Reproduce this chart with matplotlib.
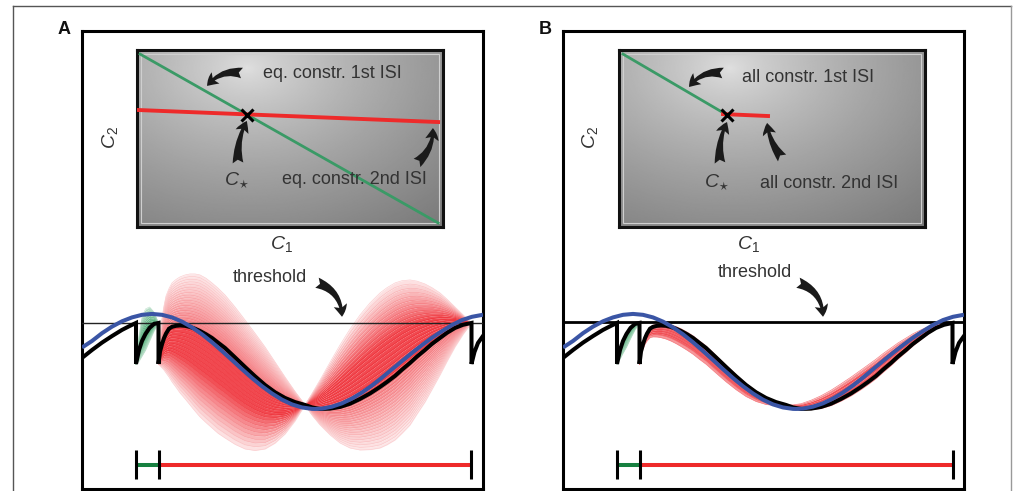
import numpy as np
import matplotlib
matplotlib.use("Agg")
import matplotlib.pyplot as plt
from matplotlib.patches import FancyArrowPatch, Rectangle
from matplotlib.lines import Line2D

plt.rcParams['font.family'] = ['Liberation Sans', 'DejaVu Sans']
plt.rcParams['mathtext.fontset'] = 'custom'
plt.rcParams['mathtext.rm'] = 'Liberation Sans'
plt.rcParams['mathtext.it'] = 'Liberation Sans:italic'
plt.rcParams['mathtext.bf'] = 'Liberation Sans:bold'

# ---------------- data ----------------
# time in ms, membrane potential normalised (reset = 0, threshold = 1)
threshold = 1.0
spike_times = [5.4, 7.65, 38.95]

osc_t = [0, 1, 2, 3, 4, 5, 6, 7, 8, 9, 10, 11, 12, 13, 14, 15, 16, 17, 18, 19,
         20, 21, 22, 23, 23.3, 24, 25, 26, 27, 28, 29, 30, 31, 32, 33, 34, 35,
         36, 37, 38, 39, 40.1]
osc_v = [0.40, 0.56, 0.75, 0.91, 1.04, 1.135, 1.198, 1.22, 1.198, 1.135, 1.032,
         0.892, 0.723, 0.528, 0.316, 0.095, -0.128, -0.344, -0.544, -0.721,
         -0.872, -0.987, -1.061, -1.096, -1.098, -1.089, -1.042, -0.96, -0.843,
         -0.697, -0.525, -0.334, -0.129, 0.07, 0.27, 0.46, 0.64, 0.80, 0.95,
         1.07, 1.15, 1.20]

pre_t = [0, 1, 2, 3, 4, 4.8, 5.4]
pre_v = [0.146, 0.34, 0.52, 0.68, 0.83, 0.93, 1.0]

isi1_t = [5.4, 5.7, 6.0, 6.35, 6.75, 7.2, 7.65]
isi1_v = [0, 0.341, 0.561, 0.732, 0.878, 0.976, 1.0]
isi1_up = [0, 0.707, 1.146, 1.341, 1.39, 1.268, 1.0]
isi1_low = [0, 0.073, 0.195, 0.341, 0.561, 0.805, 1.0]

isi2_t = [7.65, 7.8, 8.0, 8.2, 8.4, 8.7, 9.0, 9.4, 9.8, 10.3, 10.8, 11.3, 11.8,
          12.4, 13.0, 13.6, 14.3, 15.3, 16.3, 17.3, 18.3, 19.3, 20.3, 21.3,
          22.3, 23.0, 23.8, 24.8, 25.8, 26.8, 27.8, 28.8, 29.8, 30.5, 31.3,
          32.0, 32.8, 33.5, 34.3, 35.0, 35.8, 36.5, 37.3, 38.1, 38.95]
isi2_v = [0, 0.3, 0.48, 0.63, 0.74, 0.86, 0.905, 0.93, 0.939, 0.93, 0.902,
          0.86, 0.805, 0.725, 0.634, 0.52, 0.39, 0.16, -0.073, -0.3, -0.512,
          -0.69, -0.829, -0.93, -1.0, -1.06, -1.098, -1.09, -1.049, -0.97,
          -0.854, -0.72, -0.561, -0.44, -0.293, -0.14, 0.024, 0.18, 0.341,
          0.49, 0.634, 0.76, 0.878, 0.955, 1.0]
isi2_env_a = [0, 0.6, 1.122, 1.42, 1.659, 1.84, 1.976, 2.06, 2.122, 2.17, 2.195,
              2.195, 2.171, 2.09, 1.976, 1.85, 1.683, 1.39, 1.073, 0.75, 0.415,
              0.05, -0.317, -0.67, -1.0, -1.25, -1.488, -1.73, -1.927, -2.05,
              -2.098, -2.09, -2.049, -1.97, -1.854, -1.69, -1.488, -1.22,
              -0.927, -0.62, -0.268, 0.06, 0.415, 0.72, 1.0]
isi2_env_b = [0, -0.05, -0.098, -0.15, -0.22, -0.32, -0.439, -0.57, -0.707,
              -0.85, -1.0, -1.15, -1.293, -1.43, -1.561, -1.69, -1.805, -1.96,
              -2.073, -2.11, -2.073, -1.93, -1.707, -1.39, -1.0, -0.72, -0.39,
              0.04, 0.463, 0.85, 1.195, 1.49, 1.732, 1.86, 1.976, 2.03, 2.049,
              2.02, 1.951, 1.86, 1.732, 1.58, 1.39, 1.2, 1.0]

post_t = [38.95, 39.25, 39.6, 40.1]
post_v = [0, 0.293, 0.512, 0.683]

# fractions of the envelopes used for the families of trajectories
fan_levels_A = [0.0, 0.05, 0.1, 0.15, 0.2, 0.25, 0.3, 0.35, 0.4, 0.45, 0.5,
                0.55, 0.6, 0.65, 0.7, 0.75, 0.8, 0.85, 0.9, 0.95, 1.0]
fan_levels_B_b = [0.0, 0.03, 0.06, 0.09, 0.12, 0.15, 0.18]
fan_levels_B_a = [0.0, 0.02, 0.04]
green_levels_A = [0.0, 0.1, 0.2, 0.3, 0.4, 0.5, 0.6, 0.7, 0.8, 0.9, 1.0]
green_levels_B = [0.0, 0.1, 0.2, 0.3, 0.4, 0.5, 0.6, 0.7, 0.8]

# parameter space (normalised C1, C2)
A_c1_line1 = [0.01, 0.984]
A_c2_line1 = [0.977, 0.023]
A_c1_line2 = [0.003, 0.984]
A_c2_line2 = [0.661, 0.593]
A_cstar = (0.359, 0.635)

B_c1_line1 = [0.013, 0.353]
B_c2_line1 = [0.977, 0.633]
B_c1_line2 = [0.34, 0.487]
B_c2_line2 = [0.638, 0.627]
B_cstar = (0.353, 0.633)

bar_level = -2.46
bar_tick_lo, bar_tick_hi = -2.81, -2.10

# ---------------- styles ----------------
RED = np.array([237, 28, 36]) / 255.0
GREEN = np.array([30, 150, 80]) / 255.0
BLUE = '#3a55a5'
TXT = '#333333'
W, H = 1014, 491


def tint(base, a):
    return tuple(1 - a * (1 - base))


def fig_rect(x0, y0, x1, y1):
    return [x0 / W, 1 - y1 / H, (x1 - x0) / W, (y1 - y0) / H]


fig = plt.figure(figsize=(W / 100, H / 100), dpi=100)

# outer frame
fig.add_artist(Line2D([13 / W, 1011 / W], [1 - 6 / H, 1 - 6 / H], color='#555555', lw=1.0))
fig.add_artist(Line2D([13 / W, 13 / W], [0, 1 - 6 / H], color='#555555', lw=1.0))
fig.add_artist(Line2D([1011 / W, 1011 / W], [0, 1 - 6 / H], color='#999999', lw=1.0))


def draw_fan(ax, t, base, env, levels, intens, base_col, line_boost=0.12, lw=0.45):
    base = np.array(base)
    env = np.array(env)
    curves = [base + f * (env - base) for f in levels]
    for i in range(len(levels) - 1):
        m = 0.5 * (levels[i] + levels[i + 1])
        ax.fill_between(t, curves[i], curves[i + 1], color=tint(base_col, intens(m)),
                        lw=0, zorder=2)
    for f, c in zip(levels, curves):
        ax.plot(t, c, color=tint(base_col, min(1, intens(f) + line_boost)), lw=lw, zorder=2.5)


def arrow(ax, p0, p1, rad, scale=14, hw=0.7, hl=0.6, tw=0.55):
    a = FancyArrowPatch(p0, p1, connectionstyle=f'arc3,rad={rad}',
                        arrowstyle=f'fancy,head_length={hl},head_width={hw},tail_width={tw}',
                        mutation_scale=scale, color='#1a1a1a', lw=0,
                        shrinkA=0, shrinkB=0, transform=ax.transData, zorder=6)
    ax.add_patch(a)


def panel(xoff, label, mode):
    # --- outer panel box holding the voltage traces ---
    ax = fig.add_axes(fig_rect(82 + xoff, 31, 483 + xoff, 489))
    ax.set_xlim(0, 40.1)
    ax.set_ylim(-3.05, 8.12)
    ax.set_xticks([])
    ax.set_yticks([])
    for s in ax.spines.values():
        s.set_linewidth(2.2)
        s.set_color('black')
    fig.text((64 + xoff) / W, 1 - 30 / H, label, fontsize=13, fontweight='bold',
             ha='center', va='center', color='#111111')

    if mode == 'A':
        draw_fan(ax, isi2_t, isi2_v, isi2_env_b, fan_levels_A,
                 lambda m: 0.8 if m < 0.45 else 0.8 - (m - 0.45) / 0.55 * 0.7, RED)
        draw_fan(ax, isi2_t, isi2_v, isi2_env_a, fan_levels_A,
                 lambda m: 0.55 - 0.45 * m, RED)
        draw_fan(ax, isi1_t, isi1_v, isi1_up, green_levels_A,
                 lambda m: 0.85 - 0.6 * m, GREEN, lw=0.3)
        draw_fan(ax, isi1_t, isi1_v, isi1_low, green_levels_A,
                 lambda m: 0.85 - 0.6 * m, GREEN, lw=0.3)
        ax.axhline(threshold, color='#222222', lw=1.0, zorder=4)
    else:
        draw_fan(ax, isi2_t, isi2_v, isi2_env_b, fan_levels_B_b,
                 lambda m: 0.7 if m < 0.14 else 0.45, RED, lw=0.5)
        draw_fan(ax, isi2_t, isi2_v, isi2_env_a, fan_levels_B_a,
                 lambda m: 0.6 - 5 * m, RED, lw=0.5)
        draw_fan(ax, isi1_t, isi1_v, isi1_low, green_levels_B,
                 lambda m: 0.8 - 0.6 * m, GREEN, lw=0.3)
        ax.axhline(threshold + 0.03, color='black', lw=2.0, zorder=4)

    bt = list(pre_t) + list(isi1_t) + list(isi2_t) + list(post_t)
    bv = list(pre_v) + list(isi1_v) + list(isi2_v) + list(post_v)
    ax.plot(bt, bv, color='black', lw=2.9, zorder=5, solid_joinstyle='miter')
    ax.plot(osc_t, osc_v, color=BLUE, lw=2.9, zorder=5.5, solid_capstyle='butt')

    # ISI bars
    ax.plot([spike_times[0], spike_times[1]], [bar_level, bar_level],
            color='#178040', lw=2.9, solid_capstyle='butt', zorder=5)
    ax.plot([spike_times[1], spike_times[2]], [bar_level, bar_level],
            color='#ee2a2a', lw=2.9, solid_capstyle='butt', zorder=5)
    for ts in spike_times:
        ax.plot([ts, ts], [bar_tick_lo, bar_tick_hi], color='black', lw=2.2,
                solid_capstyle='butt', zorder=6)

    ax.text(18.8 if mode == 'A' else 19.2, 2.12 if mode == 'A' else 2.24, 'threshold',
            fontsize=13, color=TXT, ha='center', va='center', zorder=6)
    arrow(ax, (23.5, 1.98), (26.0, 1.15), -0.35)

    # --- inset: parameter space ---
    x0 = 137 if mode == 'A' else 619 - 481
    ins = fig.add_axes(fig_rect(x0 + xoff, 50, x0 + xoff + 306, 227))
    ins.set_xlim(0, 1)
    ins.set_ylim(0, 1)
    ins.set_xticks([])
    ins.set_yticks([])
    for s in ins.spines.values():
        s.set_linewidth(2.2)
        s.set_color('#111111')
    yy, xx = np.mgrid[0:1:200j, 0:1:340j]
    cx, cy = 0.36, 0.9
    d = np.sqrt(((xx - cx) / 0.85) ** 2 + ((yy - cy) / 1.0) ** 2)
    val = 0.88 - 0.36 * np.clip(d, 0, 1.3) ** 0.75
    ins.imshow(val, cmap='gray', vmin=0, vmax=1, extent=[0, 1, 0, 1], origin='lower',
               aspect='auto', interpolation='bilinear', zorder=0)
    ins.add_patch(Rectangle((0.012, 0.022), 0.976, 0.956, transform=ins.transAxes,
                            fill=False, ec='#cfcfcf', lw=0.8, zorder=1))

    if mode == 'A':
        ins.plot(A_c1_line1, A_c2_line1, color='#3a9a66', lw=2.0, zorder=3)
        ins.plot(A_c1_line2, A_c2_line2, color='#ee2a2a', lw=2.8, zorder=3)
        ins.plot(*A_cstar, marker='x', color='black', ms=8, mew=2.2, zorder=4)
        ins.text(0.412, 0.87, 'eq. constr. 1st ISI', fontsize=13, color=TXT,
                 ha='left', va='center')
        ins.text(0.474, 0.266, 'eq. constr. 2nd ISI', fontsize=13, color=TXT,
                 ha='left', va='center')
        ins.text(0.327, 0.266, r'$C_{\star}$', fontsize=14, color=TXT,
                 ha='center', va='center')
        arrow(ins, (0.343, 0.87), (0.229, 0.797), 0.3)
        arrow(ins, (0.33, 0.362), (0.359, 0.599), -0.15)
        arrow(ins, (0.915, 0.362), (0.967, 0.559), 0.25)
        fig.text(110 / W, 1 - 138 / H, r'$C_{2}$', fontsize=14, color=TXT,
                 rotation=90, ha='center', va='center')
        fig.text(281 / W, 1 - 244 / H, r'$C_{1}$', fontsize=14, color=TXT,
                 ha='center', va='center')
    else:
        ins.plot(B_c1_line1, B_c2_line1, color='#3a9a66', lw=2.0, zorder=3)
        ins.plot(B_c1_line2, B_c2_line2, color='#ee2a2a', lw=2.8, zorder=3)
        ins.plot(*B_cstar, marker='x', color='black', ms=8, mew=2.2, zorder=4)
        ins.text(0.402, 0.842, 'all constr. 1st ISI', fontsize=13, color=TXT,
                 ha='left', va='center')
        ins.text(0.461, 0.243, 'all constr. 2nd ISI', fontsize=13, color=TXT,
                 ha='left', va='center')
        ins.text(0.32, 0.254, r'$C_{\star}$', fontsize=14, color=TXT,
                 ha='center', va='center')
        arrow(ins, (0.34, 0.87), (0.229, 0.791), 0.3)
        arrow(ins, (0.33, 0.362), (0.353, 0.593), -0.15)
        arrow(ins, (0.533, 0.39), (0.484, 0.588), -0.15)
        fig.text(590 / W, 1 - 138 / H, r'$C_{2}$', fontsize=14, color=TXT,
                 rotation=90, ha='center', va='center')
        fig.text(748 / W, 1 - 244 / H, r'$C_{1}$', fontsize=14, color=TXT,
                 ha='center', va='center')


panel(0, 'A', 'A')
panel(481, 'B', 'B')

fig.savefig('out.png', dpi=100)
